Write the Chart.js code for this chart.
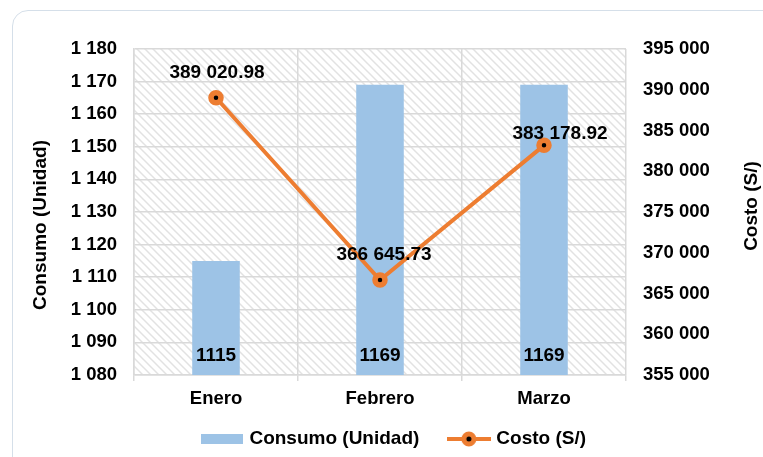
<!DOCTYPE html>
<html>
<head>
<meta charset="utf-8">
<script src="https://cdn.jsdelivr.net/npm/chart.js"></script>
<style>
  html, body { margin: 0; padding: 0; background: #fff; overflow: hidden; }
  .frame { position: absolute; left: 12px; top: 10px; width: 800px; height: 500px;
           border: 1px solid #d5dfe9; border-radius: 16px; }
  #costChart { position: absolute; left: 0; top: 0; }
</style>
</head>
<body>
<div class="frame"></div>
<canvas id="costChart" width="763" height="457"></canvas>

<script>
const months = ['Enero', 'Febrero', 'Marzo'];
const consumo = [1115, 1169, 1169];
const costo = [389020.98, 366645.73, 383178.92];
const consumoTicks = { min: 1080, max: 1180, step: 10 };
const costoTicks = { min: 355000, max: 395000, step: 5000 };

const BAR_COLOR = '#9dc3e6';
const LINE_COLOR = '#ed7d31';
const GRID_COLOR = '#d9d9d9';
const FONT = '"Liberation Sans", Arial, sans-serif';

function spaced(n) {
    const parts = String(n).split('.');
    parts[0] = parts[0].replace(/\B(?=(\d{3})+(?!\d))/g, ' ');
    return parts.join('.');
}

function hatchPattern(ctx) {
    const s = 8;
    const c = document.createElement('canvas');
    c.width = s; c.height = s;
    const g = c.getContext('2d');
    g.strokeStyle = '#e2e2e2';
    g.lineWidth = 1.5;
    g.beginPath();
    g.moveTo(0, 0); g.lineTo(s, s);
    g.moveTo(-2, s - 2); g.lineTo(2, s + 2);
    g.moveTo(s - 2, -2); g.lineTo(s + 2, 2);
    g.stroke();
    return ctx.createPattern(c, 'repeat');
}

function legendBar() {
    const c = document.createElement('canvas');
    c.width = 42; c.height = 10;
    const g = c.getContext('2d');
    g.fillStyle = BAR_COLOR;
    g.fillRect(0, 0, 42, 10);
    return c;
}

function legendLine() {
    const c = document.createElement('canvas');
    c.width = 44; c.height = 18;
    const g = c.getContext('2d');
    g.strokeStyle = LINE_COLOR;
    g.lineWidth = 4;
    g.beginPath(); g.moveTo(0, 9); g.lineTo(44, 9); g.stroke();
    g.beginPath(); g.arc(22, 9, 5, 0, Math.PI * 2);
    g.fillStyle = '#000'; g.fill();
    g.lineWidth = 5; g.stroke();
    return c;
}

// hatched plot background, drawn under the grid
const plotBackground = {
    id: 'plotBackground',
    beforeDraw(chart) {
        const { ctx, chartArea: a } = chart;
        ctx.save();
        ctx.fillStyle = hatchPattern(ctx);
        ctx.fillRect(a.left, a.top, a.right - a.left, a.bottom - a.top);
        ctx.restore();
    }
};

// the legend uses a wide item gap (padding), which also pads it vertically;
// let it overlap the x-axis band so the plot keeps its size
const legendBand = {
    id: 'legendBand',
    afterLayout(chart) {
        const legend = chart.legend;
        legend.top = 398;
        legend.height = chart.height - 398;
        legend.bottom = chart.height;
    }
};

// value labels on bars and line points
const valueLabels = {
    id: 'valueLabels',
    afterDatasetsDraw(chart, args, opts) {
        const ctx = chart.ctx;
        const bottom = chart.chartArea.bottom;
        ctx.save();
        ctx.fillStyle = '#000';
        ctx.textAlign = 'center';
        ctx.textBaseline = 'middle';
        ctx.font = 'bold 19px ' + FONT;
        chart.getDatasetMeta(1).data.forEach((bar, i) => {
            ctx.fillText(String(consumo[i]), bar.x, bottom - 19.5);
        });
        chart.getDatasetMeta(0).data.forEach((pt, i) => {
            const off = opts.lineOffsets[i];
            ctx.fillText(spaced(costo[i].toFixed(2)), pt.x + off[0], pt.y + off[1]);
        });
        ctx.restore();
    }
};

// axis titles, both reading bottom to top
const axisTitles = {
    id: 'axisTitles',
    afterDraw(chart) {
        const ctx = chart.ctx;
        ctx.save();
        ctx.fillStyle = '#000';
        ctx.textAlign = 'center';
        ctx.textBaseline = 'middle';
        ctx.font = 'bold 19px ' + FONT;
        [['Consumo (Unidad)', 41, 225], ['Costo (S/)', 752, 206]].forEach(([t, x, y]) => {
            ctx.save();
            ctx.translate(x, y);
            ctx.rotate(-Math.PI / 2);
            ctx.fillText(t, 0, 0);
            ctx.restore();
        });
        ctx.restore();
    }
};

const ctx = document.getElementById('costChart').getContext('2d');
const tickFont = { family: FONT, size: 18.5, weight: 'bold' };

new Chart(ctx, {
    data: {
        labels: months,
        datasets: [
            {
                type: 'line',
                label: 'Costo (S/)',
                data: costo,
                yAxisID: 'y1',
                borderColor: LINE_COLOR,
                borderWidth: 4,
                backgroundColor: '#000',
                pointBackgroundColor: '#000',
                pointBorderColor: LINE_COLOR,
                pointRadius: 5,
                pointBorderWidth: 5.5,
                tension: 0,
                order: 1
            },
            {
                type: 'bar',
                label: 'Consumo (Unidad)',
                data: consumo,
                yAxisID: 'y',
                backgroundColor: BAR_COLOR,
                barPercentage: 0.29,
                categoryPercentage: 1,
                order: 2
            }
        ]
    },
    options: {
        responsive: false,
        animation: false,
        layout: { padding: { top: 49, left: 27, right: 0, bottom: 0 } },
        scales: {
            x: {
                offset: true,
                grid: { color: GRID_COLOR, lineWidth: 1.5, tickLength: 6, offset: true },
                border: { color: GRID_COLOR, width: 1.5 },
                ticks: { color: '#000', font: tickFont, padding: 7 },
                afterFit(scale) { scale.height = 40; }
            },
            y: {
                position: 'left',
                min: consumoTicks.min,
                max: consumoTicks.max,
                grid: { color: GRID_COLOR, lineWidth: 1.5, drawTicks: false },
                border: { color: GRID_COLOR, width: 1.5 },
                ticks: { stepSize: consumoTicks.step, color: '#000', font: tickFont, padding: 17,
                         callback: v => spaced(v) },
                afterFit(scale) { scale.width = 107; }
            },
            y1: {
                position: 'right',
                min: costoTicks.min,
                max: costoTicks.max,
                grid: { display: false, drawTicks: false },
                border: { display: false },
                ticks: { stepSize: costoTicks.step, color: '#000', font: tickFont, padding: 17,
                         callback: v => spaced(v) },
                afterFit(scale) { scale.width = 137; }
            }
        },
        plugins: {
            tooltip: { enabled: false },
            legend: {
                position: 'bottom',
                maxHeight: 42,
                labels: {
                    usePointStyle: true,
                    pointStyleWidth: 36,
                    padding: 31.5,
                    color: '#595959',
                    font: { family: FONT, size: 19, weight: 'bold' },
                    generateLabels: () => [
                        { text: 'Consumo (Unidad)', pointStyle: legendBar(), lineWidth: 0, datasetIndex: 1 },
                        { text: 'Costo (S/)', pointStyle: legendLine(), lineWidth: 0, datasetIndex: 0 }
                    ]
                }
            },
            valueLabels: { lineOffsets: [[1, -25], [4, -25], [16, -12]] }
        }
    },
    plugins: [plotBackground, legendBand, valueLabels, axisTitles]
});
</script>
</body>
</html>
